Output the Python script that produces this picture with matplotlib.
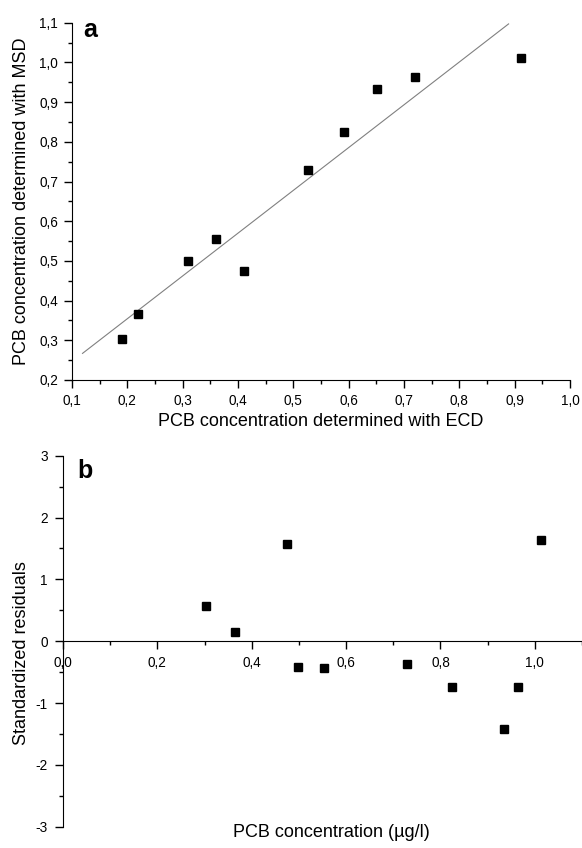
import matplotlib
matplotlib.use("Agg")
import matplotlib.pyplot as plt
from matplotlib.ticker import MultipleLocator, FuncFormatter

plt.rcParams['font.family'] = ['Liberation Sans', 'DejaVu Sans']

# panel a: ECD vs MSD
ecd = [0.19, 0.22, 0.31, 0.36, 0.41, 0.527, 0.591, 0.651, 0.72, 0.912]
msd = [0.304, 0.365, 0.50, 0.555, 0.475, 0.728, 0.824, 0.934, 0.964, 1.011]
fit_x = [0.119, 0.889]
fit_y = [0.267, 1.097]

# panel b: standardized residuals vs concentration
conc = [0.304, 0.364, 0.475, 0.499, 0.553, 0.729, 0.824, 0.935, 0.964, 1.013]
resid = [0.565, 0.152, 1.58, -0.413, -0.43, -0.375, -0.745, -1.42, -0.734, 1.63]


def comma(v, pos):
    return f"{v:.1f}".replace('.', ',')


fig = plt.figure(figsize=(5.82, 8.48), dpi=100)

# ---- panel a
ax = fig.add_axes([0.1237, 0.5519, 0.8557, 0.4213])
ax.plot(fit_x, fit_y, color='#808080', lw=0.8)
ax.plot(ecd, msd, 's', color='black', ms=5.5)
ax.set_xlim(0.1, 1.0)
ax.set_ylim(0.2, 1.1)
ax.spines['top'].set_visible(False)
ax.spines['right'].set_visible(False)
ax.xaxis.set_major_locator(MultipleLocator(0.1))
ax.xaxis.set_minor_locator(MultipleLocator(0.05))
ax.yaxis.set_major_locator(MultipleLocator(0.1))
ax.yaxis.set_minor_locator(MultipleLocator(0.05))
ax.xaxis.set_major_formatter(FuncFormatter(comma))
ax.yaxis.set_major_formatter(FuncFormatter(comma))
ax.tick_params(which='major', length=6, width=1, labelsize=9.8, pad=4)
ax.tick_params(which='minor', length=3, width=1)
ax.set_xlabel('PCB concentration determined with ECD', fontsize=13)
ax.set_ylabel('PCB concentration determined with MSD', fontsize=13)
ax.xaxis.set_label_coords(0.5, -0.092)
ax.yaxis.set_label_coords(-0.084, 0.5)
ax.text(0.022, 0.96, 'a', transform=ax.transAxes, fontsize=18,
        fontweight='bold', va='baseline', ha='left')

# ---- panel b
bx = fig.add_axes([0.1082, 0.0251, 0.8918, 0.4375])
bx.plot(conc, resid, 's', color='black', ms=5.5)
bx.set_xlim(0, 1.1)
bx.set_ylim(-3, 3)
bx.spines['top'].set_visible(False)
bx.spines['right'].set_visible(False)
bx.spines['bottom'].set_position(('data', 0))
bx.xaxis.set_major_locator(MultipleLocator(0.2))
bx.xaxis.set_minor_locator(MultipleLocator(0.1))
bx.yaxis.set_major_locator(MultipleLocator(1))
bx.yaxis.set_minor_locator(MultipleLocator(0.5))
bx.xaxis.set_major_formatter(FuncFormatter(comma))
bx.yaxis.set_major_formatter(FuncFormatter(lambda v, p: f"{v:.0f}"))
bx.tick_params(which='major', length=6, width=1, labelsize=9.8, pad=5)
bx.tick_params(which='minor', length=3, width=1)
bx.set_xlabel('PCB concentration (µg/l)', fontsize=13)
bx.set_ylabel('Standardized residuals', fontsize=13)
bx.xaxis.set_label_coords(0.518, 0.007)
bx.yaxis.set_label_coords(-0.064, 0.468)
bx.text(0.027, 0.94, 'b', transform=bx.transAxes, fontsize=18,
        fontweight='bold', va='baseline', ha='left')

fig.savefig('out.png', dpi=100)
